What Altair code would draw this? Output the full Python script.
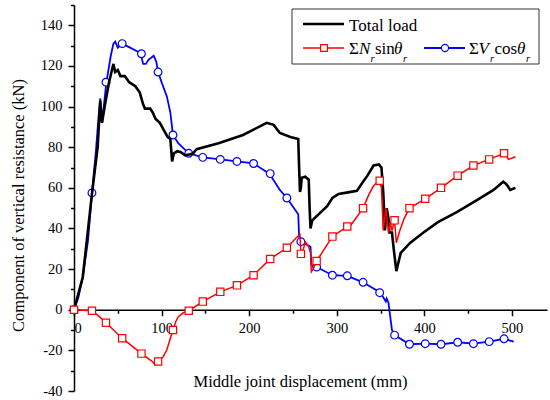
import altair as alt
import pandas as pd

# ---------------- data ----------------
total_x = [0, 10, 20.5, 27, 30, 31, 32, 35, 40, 45, 47, 50, 53, 58, 63, 70, 75, 79, 81, 87, 90, 93, 98,
           103, 107, 110, 112, 114, 118, 122, 127, 133, 136, 140, 165, 193, 220, 228, 235, 247, 256,
           257, 258, 259, 260, 264, 268, 269, 270, 272, 289, 295, 302, 316, 323, 330, 335, 342, 348,
           351, 353, 355, 357, 359, 360, 363, 365, 368, 373, 384, 399, 415, 437, 460, 479, 490, 493,
           495, 498, 504]
total_y = [0, 16, 57, 80, 103, 95, 92, 100, 112, 121, 117, 118, 115, 115, 112, 110, 107, 101, 99, 99, 97,
           94, 92, 88, 85, 84, 73, 77, 78, 77.5, 76, 76.5, 77, 79, 82, 86, 92, 91, 87, 85, 84,
           70, 58, 60, 65, 65.5, 64, 50, 40, 44, 51, 55, 57, 58, 58.5, 63, 66, 71, 71.5,
           70, 58, 39, 50, 45, 38, 38, 30, 19, 28, 33, 38, 43, 48, 54, 59, 63, 62,
           61, 59, 60]

nsin_x = [0, 20.5, 28, 36.5, 55, 77, 88, 93, 96, 102, 106, 110, 113, 116, 119, 125, 131, 147, 167, 186,
          205, 224, 243, 256, 258, 259, 262, 264, 268, 270, 271, 273, 277, 295, 312, 315, 330, 337, 342,
          348, 351, 353, 356, 359, 361, 363, 366, 368, 372, 377, 383, 401, 419, 438, 456, 474, 491, 493,
          496, 504]
nsin_y = [0, -0.5, -3, -6.4, -14, -21.6, -25, -27, -25.5, -23, -19.7, -14, -10, -6, -3.4, -1.5, -0.5, 4,
          8.8, 12, 17, 25, 30.5, 36.4, 37, 27.5, 30, 33.5, 31, 28, 18.7, 20, 24, 36, 41, 41, 50, 57, 61,
          63.5, 60, 39, 50, 38, 43, 39, 44, 33, 39, 45, 50, 54.6, 60, 66, 71, 74, 77, 76,
          74, 75.3]

vcos_x = [0, 5, 10, 16, 20.5, 25, 28, 30, 31, 34, 37, 42, 45, 47, 50, 55, 64, 73, 76, 79, 82, 85, 91,
          94, 96, 100, 106, 110, 113, 119, 131, 147, 167, 186, 205, 223, 235, 243, 256, 257, 258, 266,
          270, 271, 277, 295, 312, 330, 350, 356, 357, 359, 363, 366, 383, 401, 419, 438, 456, 474,
          491, 502]
vcos_y = [0, 6, 16, 34, 57.5, 78, 95, 104, 93, 100, 112, 125, 131, 132, 129, 131, 129, 127, 126, 121,
          121, 123, 125, 122, 117, 112, 105, 97, 86, 82, 77, 75, 74, 73, 72, 67, 59, 55, 47, 36, 33.5,
          32, 31, 22, 21, 17, 16.7, 13.5, 8.4, 4, 5.5, 3.5, -10, -12.5, -17, -16.7, -17, -16, -16.7,
          -15.7, -14.3, -15.7]

marker_x = [0, 20.5, 36.5, 55, 77, 96, 113, 131, 147, 167, 186, 205, 224, 243, 259, 277, 295, 312, 330,
            349, 366, 383, 401, 419, 438, 456, 474, 491]
nsin_marker_y = [0, -0.5, -6.4, -14, -21.6, -25.5, -10, -0.5, 4, 8.8, 12, 17, 25, 30.5, 27.5, 24, 36,
                 41, 50, 63.5, 44, 50, 54.6, 60, 66, 71, 74, 77]
vcos_marker_y = [0, 57.5, 112, 131, 126, 117, 86, 77, 75, 74, 73, 72, 67, 55, 33.5, 21, 17, 16.7, 13.5,
                 8.4, -12.5, -17, -16.7, -17, -16, -16.7, -15.7, -14.3]

x_ticks = list(range(0, 501, 50))
y_ticks = list(range(-40, 151, 10))

x_title = "Middle joint displacement (mm)"
y_title = "Component of vertical resistance (kN)"

# ---------------- styling ----------------
FONT = "Liberation Serif"
W, H = 473, 386
X_DOM = [0, 540]
Y_DOM = [-40, 150]
BLACK, RED, BLUE = "#000000", "#ff0000", "#0000ff"


def df(xs, ys):
    return pd.DataFrame({"x": xs, "y": ys, "i": list(range(len(xs)))})


axis_style = dict(
    grid=False,
    domainColor="black", domainWidth=1.5, tickColor="black", tickWidth=1.5,
    labelFont=FONT, labelFontSize=14.5, labelColor="black",
    titleFont=FONT, titleFontSize=16.5, titleFontWeight="normal", titleColor="black",
    labelPadding=6,
)

x_axis = alt.Axis(
    values=x_ticks,
    labelExpr="datum.value % 100 === 0 ? '' + datum.value : ''",
    tickSize={"condition": {"test": "datum.value % 100 === 0", "value": 6}, "value": 3.5},
    offset=-(H * 40 / 190),
    title=x_title,
    titleX=226, titleY=72, titleAlign="center", titleBaseline="middle",
    **axis_style,
)
y_axis = alt.Axis(
    values=y_ticks,
    labelExpr="datum.value % 20 === 0 ? '' + datum.value : ''",
    tickSize={"condition": {"test": "datum.value % 20 === 0", "value": 6}, "value": 3.5},
    title=y_title,
    titleX=-56, titleY=200, titleAlign="center", titleBaseline="middle", titleAngle=270,
    **axis_style,
)

X = alt.X("x:Q", scale=alt.Scale(domain=X_DOM, nice=False, zero=False), axis=x_axis)
Y = alt.Y("y:Q", scale=alt.Scale(domain=Y_DOM, nice=False, zero=False), axis=y_axis)


def line(xs, ys, color, width):
    return alt.Chart(df(xs, ys)).mark_line(color=color, strokeWidth=width, clip=True).encode(
        x=X, y=Y, order="i:Q")


def points(xs, ys, color, shape, size):
    return alt.Chart(df(xs, ys)).mark_point(
        shape=shape, size=size, filled=True, fill="white", stroke=color, strokeWidth=1.2, opacity=1
    ).encode(x=X, y=Y)


one = pd.DataFrame({"k": [0]})


def txt(s, x, y, size=17, style="normal"):
    return alt.Chart(one).mark_text(
        text=s, align="left", baseline="alphabetic", font=FONT, fontSize=size,
        fontStyle=style, color="black"
    ).encode(x=alt.value(x), y=alt.value(y))


def lrule(x1, x2, y, color, width):
    return alt.Chart(one).mark_rule(color=color, strokeWidth=width).encode(
        x=alt.value(x1), x2=alt.value(x2), y=alt.value(y))


def lpoint(x, y, color, shape, size):
    return alt.Chart(one).mark_point(
        shape=shape, size=size, filled=True, fill="white", stroke=color, strokeWidth=1.2, opacity=1
    ).encode(x=alt.value(x), y=alt.value(y))


legend_box = alt.Chart(one).mark_rect(fill="white", stroke="#333333", strokeWidth=1).encode(
    x=alt.value(218), x2=alt.value(465), y=alt.value(4), y2=alt.value(59))

R1, R2, RS = 25.7, 49, 56.5
SUB = 10.5
legend = [
    legend_box,
    lrule(229, 270, 19, BLACK, 2.5),
    txt("Total load", 275, R1),
    lrule(229, 270, 43, RED, 1.5),
    lpoint(250, 43, RED, "square", 45),
    txt("Σ", 275, R2), txt("N", 285, R2, style="italic"), txt("r", 296.5, RS, size=SUB, style="italic"),
    txt("sin", 301, R2), txt("θ", 320, R2, style="italic"), txt("r", 329, RS, size=SUB, style="italic"),
    lrule(350, 391, 43, BLUE, 1.8),
    lpoint(371, 43, BLUE, "circle", 50),
    txt("Σ", 395, R2), txt("V", 404.5, R2, style="italic"), txt("r", 416, RS, size=SUB, style="italic"),
    txt("cos", 420.5, R2), txt("θ", 443, R2, style="italic"), txt("r", 452, RS, size=SUB, style="italic"),
]

chart = alt.layer(
    line(vcos_x, vcos_y, BLUE, 1.8),
    points(marker_x, vcos_marker_y, BLUE, "circle", 60),
    line(total_x, total_y, BLACK, 2.6),
    line(nsin_x, nsin_y, RED, 1.5),
    points(marker_x, nsin_marker_y, RED, "square", 53),
    *legend,
).properties(
    width=W, height=H,
    autosize=alt.AutoSizeParams(type="none"),
    padding={"left": 74, "top": 5, "right": 3, "bottom": 9},
    background="white",
).configure_view(stroke=None).configure_axis(
    labelFont=FONT, titleFont=FONT,
)

chart.save("out.html", embed_options={"renderer": "svg", "actions": False})
